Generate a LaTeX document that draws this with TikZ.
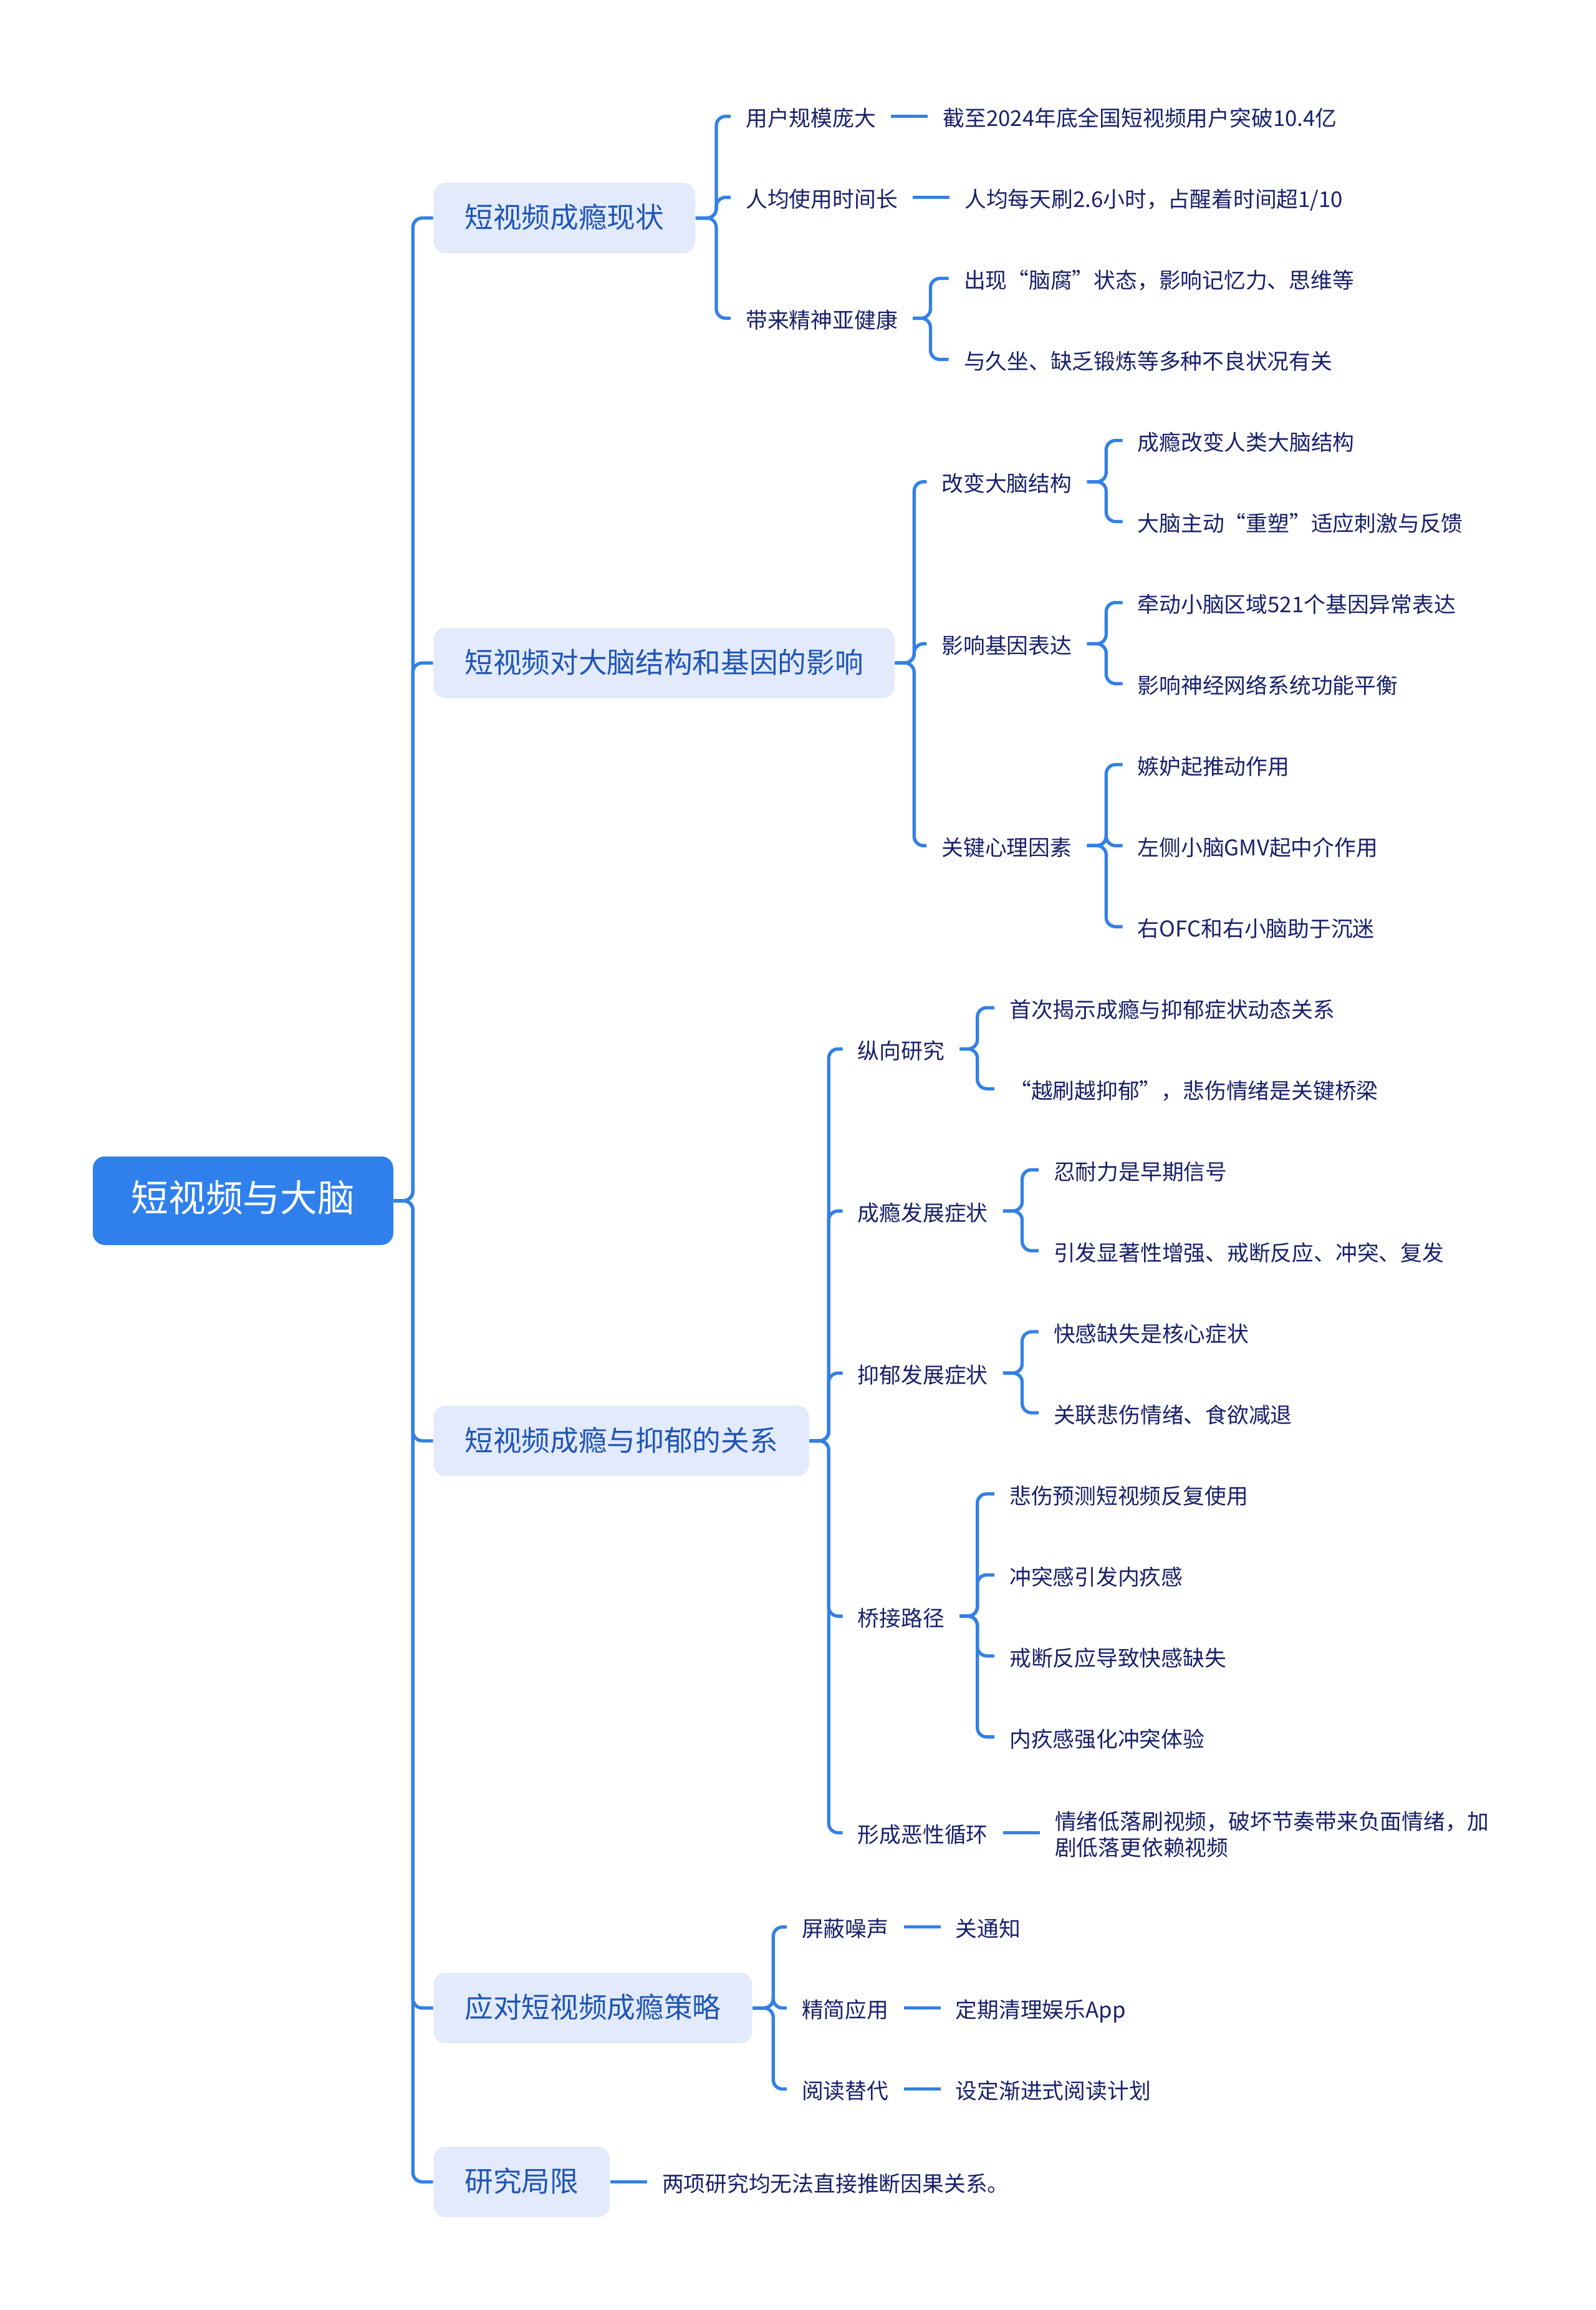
\documentclass[tikz,border=0pt]{standalone}
\usepackage{fontspec}
\setmainfont{Noto Sans CJK SC}
\usepackage{tikz}
\usetikzlibrary{positioning}
\definecolor{rootblue}{HTML}{2F80ED}
\definecolor{linkblue}{HTML}{3380E6}
\definecolor{topicfill}{HTML}{E2EAFB}
\definecolor{topictext}{HTML}{1F55B5}
\definecolor{leaftext}{HTML}{18206A}

\begin{document}
\begin{tikzpicture}[x=0.02364cm, y=-0.02364cm, node distance=0.59cm]
\tikzset{mainbox/.style={fill=rootblue, text=white, rounded corners=0.19cm, minimum width=4.82cm, minimum height=1.42cm, text height=1.0em, text depth=0em, font=\fontsize{17pt}{20pt}\selectfont}}
\tikzset{topicbox/.style={anchor=west, fill=topicfill, text=topictext, rounded corners=0.19cm, inner xsep=0.5cm, minimum height=1.13cm, text height=0.96em, text depth=0.04em, font=\fontsize{13pt}{16pt}\selectfont}}
\tikzset{leaf/.style={anchor=west, text=leaftext, inner xsep=0.236cm, inner ysep=2pt, text height=0.96em, text depth=0.04em, font=\fontsize{9.9pt}{12.1pt}\selectfont}}
\tikzset{link/.style={draw=linkblue, line width=1.5pt, rounded corners=0.15cm}}
\fill[white] (0,0) rectangle (1083,1568);
\node[mainbox] (rootn) at (165,815) {短视频与大脑};
\node[topicbox] (t1) at (294,148) {短视频成瘾现状};
\node[topicbox] (t2) at (294,450) {短视频对大脑结构和基因的影响};
\node[topicbox] (t3) at (294,978) {短视频成瘾与抑郁的关系};
\node[topicbox] (t4) at (294,1363) {应对短视频成瘾策略};
\node[topicbox] (t5) at (294,1481) {研究局限};
\foreach \t in {t1,t2,t3,t4,t5}
  \draw[link] (rootn.east) -- ++(13,0) |- (\t.west);

\node[leaf] (a1) at (496,79) {用户规模庞大};
\node[leaf, right=of a1] (a1x) {截至2024年底全国短视频用户突破10.4亿};
\node[leaf] (a2) at (496,134) {人均使用时间长};
\node[leaf, right=of a2] (a2x) {人均每天刷2.6小时，占醒着时间超1/10};
\node[leaf] (a3) at (496,216) {带来精神亚健康};
\node[leaf] (a3a) at (644,189) {出现“脑腐”状态，影响记忆力、思维等};
\node[leaf] (a3b) at (644,244) {与久坐、缺乏锻炼等多种不良状况有关};
\foreach \c in {a1,a2,a3}
  \draw[link] (t1.east) -- ++(14,0) |- (\c.west);
\draw[link] (a1) -- (a1x);
\draw[link] (a2) -- (a2x);
\foreach \c in {a3a,a3b}
  \draw[link] (a3.east) -- ++(12,0) |- (\c.west);

\node[leaf] (b1) at (629,327) {改变大脑结构};
\node[leaf] (b1a) at (762,299) {成瘾改变人类大脑结构};
\node[leaf] (b1b) at (762,354) {大脑主动“重塑”适应刺激与反馈};
\node[leaf] (b2) at (629,437) {影响基因表达};
\node[leaf] (b2a) at (762,409) {牵动小脑区域521个基因异常表达};
\node[leaf] (b2b) at (762,464) {影响神经网络系统功能平衡};
\node[leaf] (b3) at (629,574) {关键心理因素};
\node[leaf] (b3a) at (762,519) {嫉妒起推动作用};
\node[leaf] (b3b) at (762,574) {左侧小脑GMV起中介作用};
\node[leaf] (b3c) at (762,629) {右OFC和右小脑助于沉迷};
\foreach \c in {b1,b2,b3}
  \draw[link] (t2.east) -- ++(13,0) |- (\c.west);
\foreach \c in {b1a,b1b}
  \draw[link] (b1.east) -- ++(13,0) |- (\c.west);
\foreach \c in {b2a,b2b}
  \draw[link] (b2.east) -- ++(13,0) |- (\c.west);
\foreach \c in {b3a,b3b,b3c}
  \draw[link] (b3.east) -- ++(13,0) |- (\c.west);

\node[leaf] (c1) at (572,712) {纵向研究};
\node[leaf] (c1a) at (675,684) {首次揭示成瘾与抑郁症状动态关系};
\node[leaf] (c1b) at (675,739) {“越刷越抑郁”，悲伤情绪是关键桥梁};
\node[leaf] (c2) at (572,822) {成瘾发展症状};
\node[leaf] (c2a) at (705,794) {忍耐力是早期信号};
\node[leaf] (c2b) at (705,849) {引发显著性增强、戒断反应、冲突、复发};
\node[leaf] (c3) at (572,932) {抑郁发展症状};
\node[leaf] (c3a) at (705,904) {快感缺失是核心症状};
\node[leaf] (c3b) at (705,959) {关联悲伤情绪、食欲减退};
\node[leaf] (c4) at (572,1097) {桥接路径};
\node[leaf] (c4a) at (675,1014) {悲伤预测短视频反复使用};
\node[leaf] (c4b) at (675,1069) {冲突感引发内疚感};
\node[leaf] (c4c) at (675,1124) {戒断反应导致快感缺失};
\node[leaf] (c4d) at (675,1179) {内疚感强化冲突体验};
\node[leaf] (c5) at (572,1244) {形成恶性循环};
\node[leaf, right=of c5, align=left, text height=21.6pt] (c5x) {情绪低落刷视频，破坏节奏带来负面情绪，加\\剧低落更依赖视频};
\foreach \c in {c1,c2,c3,c4,c5}
  \draw[link] (t3.east) -- ++(13,0) |- (\c.west);
\foreach \c in {c1a,c1b}
  \draw[link] (c1.east) -- ++(12,0) |- (\c.west);
\foreach \c in {c2a,c2b}
  \draw[link] (c2.east) -- ++(13,0) |- (\c.west);
\foreach \c in {c3a,c3b}
  \draw[link] (c3.east) -- ++(13,0) |- (\c.west);
\foreach \c in {c4a,c4b,c4c,c4d}
  \draw[link] (c4.east) -- ++(12,0) |- (\c.west);
\draw[link] (c5) -- (c5x);

\node[leaf] (d1) at (534,1308) {屏蔽噪声};
\node[leaf, right=of d1] (d1x) {关通知};
\node[leaf] (d2) at (534,1363) {精简应用};
\node[leaf, right=of d2] (d2x) {定期清理娱乐App};
\node[leaf] (d3) at (534,1418) {阅读替代};
\node[leaf, right=of d3] (d3x) {设定渐进式阅读计划};
\foreach \c in {d1,d2,d3}
  \draw[link] (t4.east) -- ++(14,0) |- (\c.west);
\draw[link] (d1) -- (d1x);
\draw[link] (d2) -- (d2x);
\draw[link] (d3) -- (d3x);

\node[leaf, right=of t5] (e1) {两项研究均无法直接推断因果关系。};
\draw[link] (t5) -- (e1);
\end{tikzpicture}
\end{document}
